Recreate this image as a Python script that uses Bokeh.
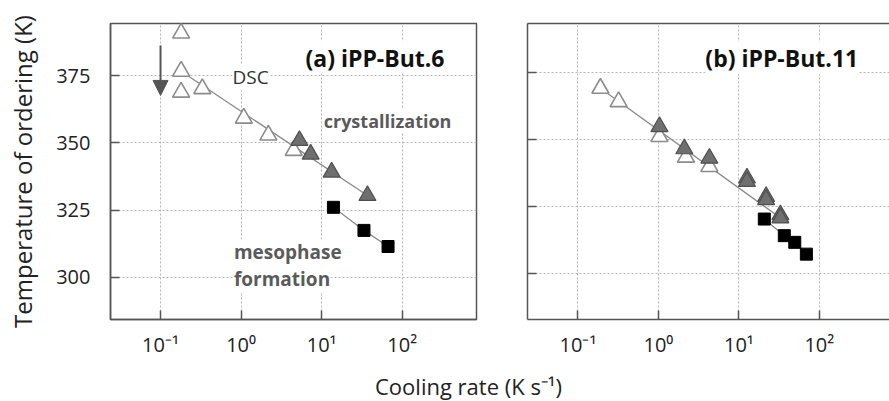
from bokeh.plotting import figure
from bokeh.layouts import column, row
from bokeh.models import (Range1d, FixedTicker, CustomJSTickFormatter, Label,
                          Arrow, NormalHead, LinearAxis)
from bokeh.embed import file_html
from bokeh.resources import INLINE

# ---------------- data ----------------
a_dsc_rate = [0.18, 0.18, 0.18, 0.33, 1.08, 2.18, 4.5]
a_dsc_T = [390.9, 376.7, 368.9, 370.2, 359.2, 352.9, 347.2]
a_cry_rate = [5.3, 7.3, 13.3, 37]
a_cry_T = [350.9, 345.8, 339.1, 330.4]
a_meso_rate = [14, 33.5, 66.7]
a_meso_T = [326.0, 317.4, 311.4]
a_fit_rate = [0.18, 37]
a_fit_T = [376.7, 330.4]

b_dsc_rate = [0.19, 0.32, 1.03, 2.2, 4.3]
b_dsc_T = [369.2, 364.2, 351.2, 343.5, 340.0]
b_cry_rate = [1.03, 2.1, 4.3, 12.6, 12.6, 21.8, 21.8, 32.8, 32.8]
b_cry_T = [354.9, 346.6, 343.1, 335.7, 334.4, 328.8, 327.6, 322.0, 320.8]
b_meso_rate = [20.7, 36.7, 49.5, 69]
b_meso_T = [320.4, 314.2, 311.7, 307.3]
b_fit_rate = [0.19, 34]
b_fit_T = [369.2, 320.5]

x_ticks = [0.1, 1, 10, 100]
y_ticks = [300, 325, 350, 375]
y_label = "Temperature of ordering (K)"
x_label = "Cooling rate (K s\u207b\u00b9)"

FONT = "Open Sans"
FRAME = "#555555"
GRID = "#b5b5b5"

fmt = CustomJSTickFormatter(code="""
const sup = {"-":"\u207b","0":"\u2070","1":"\u00b9","2":"\u00b2","3":"\u00b3"};
const e = Math.round(Math.log10(tick));
return "10" + String(e).split("").map(c => sup[c]).join("");
""")


def base_fig(width, x0, x1, y0, y1, border_left, border_right):
    p = figure(width=width, height=365, x_axis_type="log",
               x_range=Range1d(x0, x1), y_range=Range1d(y0, y1),
               output_backend="svg", toolbar_location=None,
               min_border_left=border_left, min_border_right=border_right,
               min_border_top=23, min_border_bottom=46)
    p.background_fill_color = "white"
    p.border_fill_color = "white"
    p.xaxis.ticker = FixedTicker(ticks=x_ticks)
    p.yaxis.ticker = FixedTicker(ticks=y_ticks)
    p.xaxis.formatter = fmt
    for ax in (p.xaxis[0], p.yaxis[0]):
        ax.major_tick_in = 9
        ax.major_tick_out = 0
        ax.minor_tick_in = 0
        ax.minor_tick_out = 0
        ax.major_tick_line_color = FRAME
        ax.major_tick_line_width = 1.5
        ax.major_label_text_font = FONT
        ax.major_label_text_font_size = "20px"
        ax.major_label_text_color = "#222222"
        ax.axis_line_color = FRAME
        ax.axis_line_width = 1.5
    p.xaxis.major_label_standoff = 11
    p.yaxis.major_label_standoff = 20
    for g in (p.xgrid[0], p.ygrid[0]):
        g.grid_line_color = GRID
        g.grid_line_dash = "2 2"
        g.grid_line_width = 1
    return p


def draw(p, fit_r, fit_T, meso_r, meso_T, dsc_r, dsc_T, cry_r, cry_T):
    p.line(fit_r, fit_T, line_color="#8a8a8a", line_width=1.3)
    p.line(meso_r, meso_T, line_color="#8a8a8a", line_width=1.3)
    p.scatter(dsc_r, dsc_T, marker="triangle", size=17, fill_color="white",
              line_color="#8c8c8c", line_width=1.6)
    p.scatter(cry_r, cry_T, marker="triangle", size=17, fill_color="#6f6f6f",
              line_color="#4f4f4f", line_width=1.2)
    p.scatter(meso_r, meso_T, marker="square", size=12, fill_color="black",
              line_color="black")


def lab(p, x, y, text, size, color, bold=False, align="left", baseline="middle"):
    p.add_layout(Label(x=x, y=y, text=text, text_font=FONT,
                       text_font_size=size, text_color=color,
                       text_font_style="bold" if bold else "normal",
                       text_align=align, text_baseline=baseline,
                       background_fill_color="white"))


# ---------------- panel (a) ----------------
p1 = base_fig(500, 0.02393, 835.5, 284.2, 394.5, 110, 24)
p1.outline_line_color = FRAME
p1.outline_line_width = 1.5
p1.yaxis.axis_label = y_label
p1.yaxis.axis_label_text_font = FONT
p1.yaxis.axis_label_text_font_size = "24px"
p1.yaxis.axis_label_text_font_style = "normal"
p1.yaxis.axis_label_text_color = "#222222"
p1.yaxis.axis_label_standoff = 14

lab(p1, 6.3, 381.8, "(a) iPP-But.6", "23px", "#111111", bold=True, baseline="alphabetic")
lab(p1, 1.31, 374.5, "DSC", "19px", "#333333", align="center")
lab(p1, 10.6, 358.3, "crystallization", "18px", "#5a5a5a", bold=True)
lab(p1, 0.815, 309.3, "mesophase", "19px", "#5a5a5a", bold=True)
lab(p1, 0.815, 299.4, "formation", "19px", "#5a5a5a", bold=True)

draw(p1, a_fit_rate, a_fit_T, a_meso_rate, a_meso_T,
     a_dsc_rate, a_dsc_T, a_cry_rate, a_cry_T)

p1.add_layout(Arrow(x_start=0.1, y_start=386.3, x_end=0.1, y_end=367.7,
                    line_color=FRAME, line_width=2,
                    end=NormalHead(size=15, fill_color=FRAME, line_color=FRAME)))

# ---------------- panel (b) ----------------
p2 = base_fig(389, 0.0236, 744.7, 282.9, 393.4, 27, 0)
p2.outline_line_color = None
p2.yaxis.formatter = CustomJSTickFormatter(code="return '';")
p2.yaxis.major_label_standoff = 0
top = LinearAxis(ticker=FixedTicker(ticks=[]), axis_line_color=FRAME,
                 axis_line_width=1.5,
                 major_tick_in=0, major_tick_out=0, minor_tick_in=0,
                 minor_tick_out=0)
p2.add_layout(top, "above")

lab(p2, 3.83, 380.5, "(b) iPP-But.11", "23px", "#111111", bold=True, baseline="alphabetic")

draw(p2, b_fit_rate, b_fit_T, b_meso_rate, b_meso_T,
     b_dsc_rate, b_dsc_T, b_cry_rate, b_cry_T)

# ---------------- shared x label ----------------
p3 = figure(width=889, height=36, x_range=Range1d(0, 889), y_range=Range1d(0, 36),
            output_backend="svg", toolbar_location=None,
            min_border=0, min_border_left=0, min_border_right=0,
            min_border_top=0, min_border_bottom=0)
p3.axis.visible = False
p3.grid.visible = False
p3.outline_line_color = None
p3.add_layout(Label(x=468, y=16, text=x_label, text_font=FONT,
                    text_font_size="22px", text_color="#222222",
                    text_align="center", text_baseline="middle"))

layout = column(row(p1, p2), p3)
open("out.html", "w").write(file_html(layout, INLINE))
